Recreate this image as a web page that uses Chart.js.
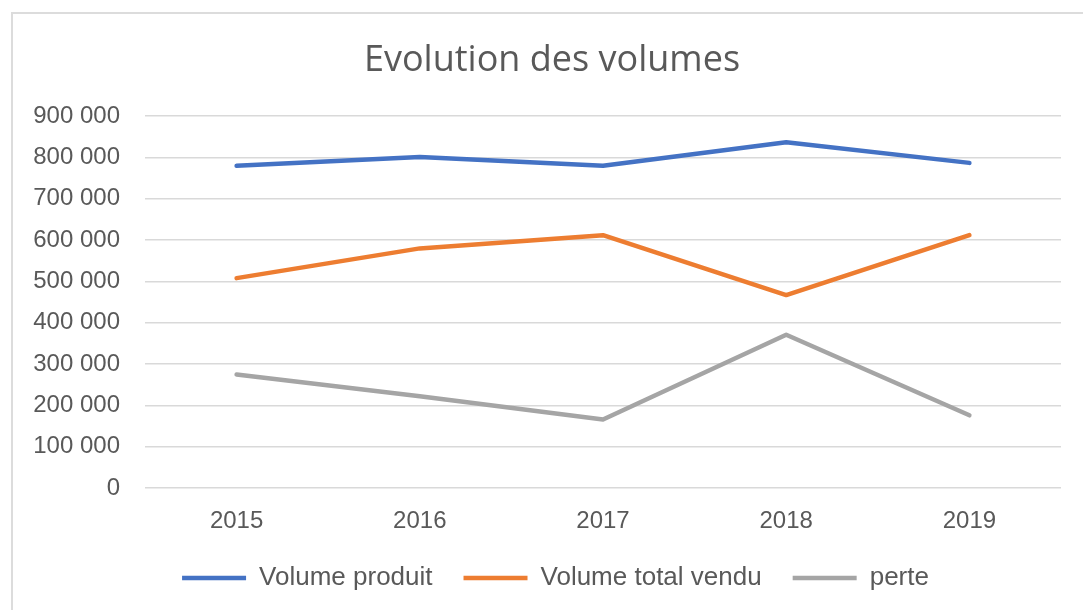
<!DOCTYPE html>
<html>
<head>
<meta charset="utf-8">
<script src="https://cdn.jsdelivr.net/npm/chart.js@4"></script>
<style>
  html, body { margin: 0; padding: 0; background: #fff; }
  #frame { position: absolute; left: 11px; top: 12px; width: 1072px; height: 598px;
           border-left: 2px solid #dcdcdc; border-top: 2px solid #dcdcdc; box-sizing: border-box; }
  #c { position: absolute; left: 0; top: 0; }
</style>
</head>
<body>
<div id="frame"></div>
<canvas id="c" width="1083" height="610"></canvas>
<script>
const titleText = "Evolution des volumes";
const categories = ["2015", "2016", "2017", "2018", "2019"];
const seriesNames = ["Volume produit", "Volume total vendu", "perte"];
const volumeProduit = [780000, 801000, 780000, 837000, 787000];
const volumeVendu = [508000, 580000, 612000, 467000, 612000];
const perte = [275000, 222000, 166000, 371000, 176000];
const yMin = 0, yMax = 900000, yStep = 100000;

const colors = ["#4472C4", "#ED7D31", "#A5A5A5"];
const txt = "#595959";

function fmt(v) {
  return String(v).replace(/\B(?=(\d{3})+(?!\d))/g, " ");
}

function ds(label, data, color) {
  return {
    label: label,
    data: data,
    borderColor: color,
    backgroundColor: color,
    borderWidth: 4.5,
    borderCapStyle: "round",
    borderJoinStyle: "round",
    pointRadius: 0,
    pointHoverRadius: 0,
    tension: 0,
    fill: false
  };
}

// shift title and legend so they are centred like the reference
const shiftBlocks = {
  id: "shiftBlocks",
  afterLayout(chart) {
    if (chart.titleBlock) chart.titleBlock.left += 43;
    if (chart.legend) chart.legend.left += 50;
  }
};

new Chart(document.getElementById("c"), {
  type: "line",
  data: {
    labels: categories,
    datasets: [
      ds(seriesNames[0], volumeProduit, colors[0]),
      ds(seriesNames[1], volumeVendu, colors[1]),
      ds(seriesNames[2], perte, colors[2])
    ]
  },
  plugins: [shiftBlocks],
  options: {
    responsive: false,
    animation: false,
    layout: { padding: { left: 0, right: 22, top: 0, bottom: 9 } },
    plugins: {
      title: {
        display: true,
        text: titleText,
        color: txt,
        font: { family: "'Open Sans', sans-serif", size: 36, weight: "normal" },
        padding: { top: 39, bottom: 34 }
      },
      legend: {
        position: "bottom",
        labels: {
          color: txt,
          font: { family: "'Liberation Sans', Arial, sans-serif", size: 26 },
          usePointStyle: true,
          pointStyle: "line",
          pointStyleWidth: 64,
          boxHeight: 5,
          padding: 31
        }
      },
      tooltip: { enabled: false }
    },
    scales: {
      x: {
        offset: true,
        grid: { display: false, drawTicks: false },
        border: { display: false },
        ticks: {
          color: txt,
          padding: 19,
          font: { family: "'Liberation Sans', Arial, sans-serif", size: 24 }
        },
        afterFit: function(s) { s.height = 46; }
      },
      y: {
        min: yMin,
        max: yMax,
        grid: { color: "#d9d9d9", lineWidth: 1.5, drawTicks: false },
        border: { display: false },
        ticks: {
          stepSize: yStep,
          color: txt,
          padding: 25,
          font: { family: "'Liberation Sans', Arial, sans-serif", size: 24 },
          callback: function(v) { return fmt(v); }
        },
        afterFit: function(s) { s.width = 145; }
      }
    }
  }
});
</script>
</body>
</html>
